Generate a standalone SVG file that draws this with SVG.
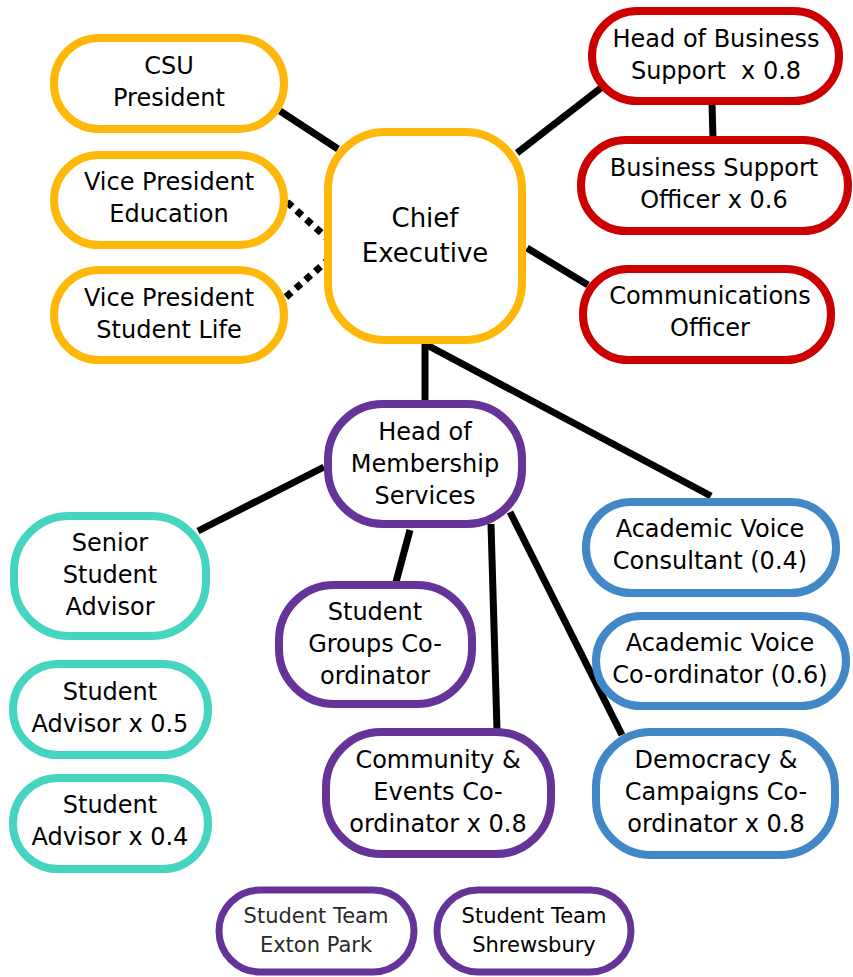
<svg xmlns="http://www.w3.org/2000/svg" width="853" height="977" viewBox="0 0 853 977">
<style>
.n{fill:#fff;stroke-width:8}
.o{stroke:#FFB80A}
.r{stroke:#CC0000}
.t{stroke:#45D4C0}
.p{stroke:#663399}
.b{stroke:#4287C6}
text{font-family:"DejaVu Sans","Liberation Sans",sans-serif;font-size:24px;fill:#000;text-anchor:middle}
.big{font-size:26px}
.sm{font-size:21px}
.lt{fill:#2a2a2a}
.c{stroke:#000;stroke-width:7;fill:none}
.d{stroke:#000;stroke-width:7;fill:none;stroke-dasharray:7 6}
</style>
<g id="connectors">
<line class="c" x1="280" y1="111" x2="338" y2="149"/>
<line class="d" x1="287" y1="202" x2="327" y2="238"/>
<line class="d" x1="286" y1="297" x2="327" y2="261"/>
<line class="c" x1="517" y1="153" x2="606" y2="84"/>
<line class="c" x1="712" y1="103" x2="713" y2="139"/>
<line class="c" x1="527" y1="248" x2="588" y2="285"/>
<line class="c" x1="425" y1="343" x2="425" y2="402"/>
<line class="c" x1="425" y1="344" x2="711" y2="496"/>
<line class="c" x1="198" y1="531" x2="324" y2="467"/>
<line class="c" x1="410" y1="530" x2="396" y2="582"/>
<line class="c" x1="491" y1="524" x2="497" y2="730"/>
<line class="c" x1="510" y1="512" x2="622" y2="735"/>
</g>
<g id="csu-president">
<rect class="n o" x="54" y="38" width="230" height="91" rx="45"/>
<text x="169" y="74">CSU</text>
<text x="169" y="106">President</text>
</g>
<g id="vp-education">
<rect class="n o" x="54" y="155" width="230" height="90" rx="45"/>
<text x="169" y="190">Vice President</text>
<text x="169" y="222">Education</text>
</g>
<g id="vp-student-life">
<rect class="n o" x="54" y="270" width="230" height="90" rx="45"/>
<text x="169" y="306">Vice President</text>
<text x="169" y="338">Student Life</text>
</g>
<g id="chief-executive">
<rect class="n o" x="328" y="132" width="194" height="208" rx="57"/>
<text class="big" x="425" y="227">Chief</text>
<text class="big" x="425" y="262">Executive</text>
</g>
<g id="head-business-support">
<rect class="n r" x="592" y="11" width="247" height="90" rx="45"/>
<text x="716" y="47">Head of Business</text>
<text x="716" y="79" xml:space="preserve">Support  x 0.8</text>
</g>
<g id="business-support-officer">
<rect class="n r" x="581" y="140" width="267" height="91" rx="45"/>
<text x="714" y="176">Business Support</text>
<text x="714" y="208">Officer x 0.6</text>
</g>
<g id="communications-officer">
<rect class="n r" x="583" y="269" width="248" height="91" rx="45"/>
<text x="710" y="304">Communications</text>
<text x="710" y="336">Officer</text>
</g>
<g id="head-membership-services">
<rect class="n p" x="328" y="404" width="194" height="120" rx="55"/>
<text x="425" y="440">Head of</text>
<text x="425" y="472">Membership</text>
<text x="425" y="504">Services</text>
</g>
<g id="senior-student-advisor">
<rect class="n t" x="14" y="516" width="192" height="120" rx="55"/>
<text x="110" y="551">Senior</text>
<text x="110" y="583">Student</text>
<text x="110" y="615">Advisor</text>
</g>
<g id="student-groups-coordinator">
<rect class="n p" x="279" y="585" width="193" height="119" rx="55"/>
<text x="375" y="620">Student</text>
<text x="375" y="652">Groups Co-</text>
<text x="375" y="684">ordinator</text>
</g>
<g id="academic-voice-consultant">
<rect class="n b" x="586" y="502" width="250" height="91" rx="45"/>
<text x="710" y="537">Academic Voice</text>
<text x="710" y="569">Consultant (0.4)</text>
</g>
<g id="academic-voice-coordinator">
<rect class="n b" x="596" y="616" width="250" height="90" rx="45"/>
<text x="720" y="651">Academic Voice</text>
<text x="720" y="683">Co-ordinator (0.6)</text>
</g>
<g id="student-advisor-05">
<rect class="n t" x="13" y="664" width="195" height="91" rx="45"/>
<text x="110" y="700">Student</text>
<text x="110" y="732">Advisor x 0.5</text>
</g>
<g id="student-advisor-04">
<rect class="n t" x="13" y="778" width="195" height="91" rx="45"/>
<text x="110" y="813">Student</text>
<text x="110" y="845">Advisor x 0.4</text>
</g>
<g id="community-events-coordinator">
<rect class="n p" x="326" y="732" width="225" height="122" rx="55"/>
<text x="438" y="768">Community &amp;</text>
<text x="438" y="800">Events Co-</text>
<text x="438" y="832">ordinator x 0.8</text>
</g>
<g id="democracy-campaigns-coordinator">
<rect class="n b" x="596" y="732" width="239" height="123" rx="55"/>
<text x="716" y="768">Democracy &amp;</text>
<text x="716" y="800">Campaigns Co-</text>
<text x="716" y="832">ordinator x 0.8</text>
</g>
<g id="student-team-exton-park">
<rect class="n p" x="219" y="890" width="195" height="82" rx="41" style="stroke-width:7"/>
<text class="sm lt" x="316" y="923">Student Team</text>
<text class="sm lt" x="316" y="952">Exton Park</text>
</g>
<g id="student-team-shrewsbury">
<rect class="n p" x="437" y="890" width="194" height="82" rx="41" style="stroke-width:7"/>
<text class="sm" x="534" y="923">Student Team</text>
<text class="sm" x="534" y="952">Shrewsbury</text>
</g>
</svg>
